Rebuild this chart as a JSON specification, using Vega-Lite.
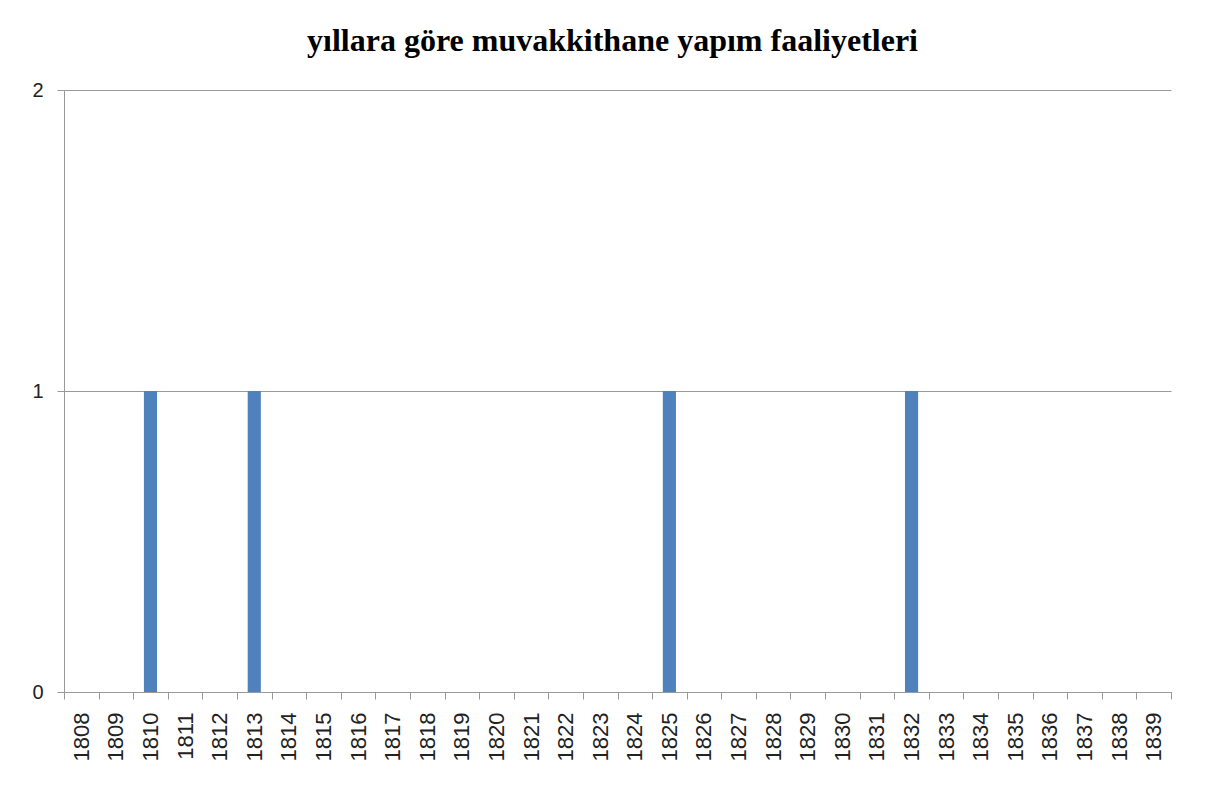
{
  "$schema": "https://vega.github.io/schema/vega-lite/v6.json",
  "width": 1107,
  "height": 602,
  "autosize": {"type": "none"},
  "padding": {"left": 64, "top": 90, "right": 36, "bottom": 98},
  "background": "white",
  "title": {
    "text": "yıllara göre muvakkithane yapım faaliyetleri",
    "font": "Liberation Serif",
    "fontSize": 32,
    "fontWeight": "bold",
    "color": "black",
    "anchor": "middle",
    "baseline": "alphabetic",
    "offset": -3,
    "dx": -5
  },
  "config": {"view": {"stroke": null}},
  "data": {
    "values": [
      {"year": "1808", "count": 0}, {"year": "1809", "count": 0}, {"year": "1810", "count": 1},
      {"year": "1811", "count": 0}, {"year": "1812", "count": 0}, {"year": "1813", "count": 1},
      {"year": "1814", "count": 0}, {"year": "1815", "count": 0}, {"year": "1816", "count": 0},
      {"year": "1817", "count": 0}, {"year": "1818", "count": 0}, {"year": "1819", "count": 0},
      {"year": "1820", "count": 0}, {"year": "1821", "count": 0}, {"year": "1822", "count": 0},
      {"year": "1823", "count": 0}, {"year": "1824", "count": 0}, {"year": "1825", "count": 1},
      {"year": "1826", "count": 0}, {"year": "1827", "count": 0}, {"year": "1828", "count": 0},
      {"year": "1829", "count": 0}, {"year": "1830", "count": 0}, {"year": "1831", "count": 0},
      {"year": "1832", "count": 1}, {"year": "1833", "count": 0}, {"year": "1834", "count": 0},
      {"year": "1835", "count": 0}, {"year": "1836", "count": 0}, {"year": "1837", "count": 0},
      {"year": "1838", "count": 0}, {"year": "1839", "count": 0}
    ]
  },
  "mark": {"type": "bar", "color": "#4F81BD", "width": {"band": 0.38}},
  "encoding": {
    "x": {
      "field": "year",
      "type": "ordinal",
      "sort": null,
      "scale": {"paddingInner": 0, "paddingOuter": 0},
      "axis": {
        "title": null,
        "labelAngle": -90,
        "labelFont": "Liberation Sans",
        "labelFontSize": 22,
        "labelColor": "#222",
        "labelPadding": 13,
        "tickBand": "extent",
        "tickSize": 7,
        "tickColor": "#999",
        "domainColor": "#999",
        "grid": false
      }
    },
    "y": {
      "field": "count",
      "type": "quantitative",
      "scale": {"domain": [0, 2]},
      "axis": {
        "title": null,
        "values": [0, 1, 2],
        "labelExpr": "format(datum.value, 'd')",
        "labelFont": "Liberation Sans",
        "labelFontSize": 20,
        "labelColor": "#222",
        "labelPadding": 14,
        "tickSize": 7,
        "tickColor": "#999",
        "domainColor": "#999",
        "grid": true,
        "gridColor": "#999"
      }
    }
  }
}
